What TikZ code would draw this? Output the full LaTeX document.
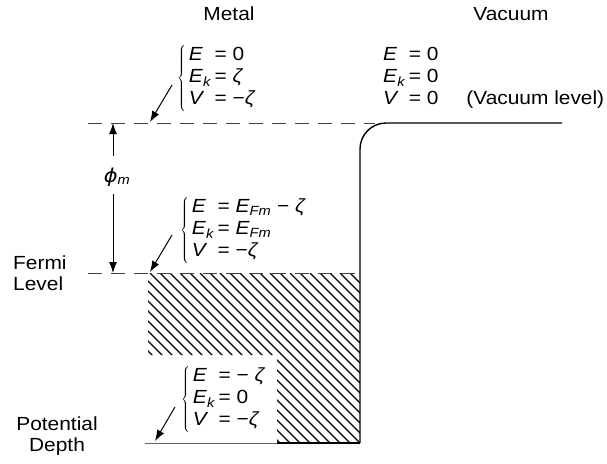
\documentclass[tikz,border=0pt]{standalone}
\usepackage{fontspec}
\setmainfont[FakeStretch=1.1]{Liberation Sans}
\newfontfamily\greekfont[FakeStretch=1.1]{DejaVu Sans}
\usetikzlibrary{arrows.meta}

\newcommand{\ek}{\textit{E}\textsubscript{\textit{k}}}
\newcommand{\efm}{\textit{E}\textsubscript{\textit{Fm}}}
\newcommand{\zt}{\textit{ζ}}

\tikzset{
  lbl/.style={inner sep=0pt, font=\fontsize{19}{22}\selectfont},
  eqs/.style={lbl, anchor=north west},
  side/.style={inner sep=0pt, font=\fontsize{19}{20.5}\selectfont},
  pointer/.style={-{Latex[length=11pt,width=8pt]}, line width=1pt},
  level/.style={dash pattern=on 14pt off 9pt, line width=1pt, black!75},
  wall/.style={line width=1.4pt},
  hatch/.style={line width=1.2pt}
}

\begin{document}
\begin{tikzpicture}[x=1pt, y=-1pt]
\useasboundingbox (0,0) rectangle (607,463);

% filled states below the Fermi level
\begin{scope}
\clip (148,273) -- (360,273) -- (360,443) -- (277,443) -- (277,355) -- (148,355) -- cycle;
\foreach \i in {-30,-20,...,360}
  \draw[hatch] (\i,273) -- ++(180,180);
\end{scope}

% levels and barrier
\draw[level] (88,123) -- (375,123);
\draw[level] (88,273) -- (360,273);
\draw[black!60, line width=0.8pt] (145,443) -- (277,443);
\draw[wall] (277,443) -- (360,443);
\draw[wall, rounded corners=26pt] (360,443) -- (360,123) -- (562,123);

% headings
\node[lbl] (metal) at (229,14) {Metal};
\node[lbl] (vacuum) at (511,14) {Vacuum};
\node[side, align=left, anchor=north west] (fermi) at (13,256) {Fermi\\Level};
\node[side, align=center, anchor=north] (depth) at (57,417) {Potential\\Depth};

% energy blocks
\node[eqs] (mtop) at (177,45) {$\left\{\mkern3mu\begin{tabular}{@{}l@{\hspace{3pt}}l@{}}
  \textit{E} & = 0\\ \ek & = \zt\\ \textit{V} & = −\zt\end{tabular}\right.$};
\node[eqs] (vtop) at (383,45) {\begin{tabular}{@{}l@{\hspace{3pt}}l@{}}
  \textit{E} & = 0\\ \ek & = 0\\ \textit{V} & = 0\hspace{28pt}(Vacuum level)\end{tabular}};
\node[eqs] (mfermi) at (180,197) {$\left\{\mkern3mu\begin{tabular}{@{}l@{\hspace{3pt}}l@{}}
  \textit{E} & = \efm\ − \zt\\ \ek & = \efm\\ \textit{V} & = −\zt\end{tabular}\right.$};
\node[eqs] (mbottom) at (181,366) {$\left\{\mkern3mu\begin{tabular}{@{}l@{\hspace{3pt}}l@{}}
  \textit{E} & = − \zt\\ \ek & = 0\\ \textit{V} & = −\zt\end{tabular}\right.$};

% pointers to the levels
\coordinate (vtip) at (150,122);
\coordinate (ftip) at (150,272);
\coordinate (ptip) at (155,441);
\draw[pointer] ([shift={(-5,40)}]mtop.north west) -- (vtip);
\draw[pointer] ([shift={(-8,38)}]mfermi.north west) -- (ftip);
\draw[pointer] ([shift={(-6,41)}]mbottom.north west) -- (ptip);

% work function
\node[lbl] (phim) at (117,177) {{\greekfont\itshape ϕ}\textsubscript{\textit{m}}};
\coordinate (phitop) at (113,123);
\coordinate (phibot) at (113,273);
\draw[pointer] (phim.north -| phitop) ++(0,-12) -- (phitop);
\draw[pointer] (phim.south -| phibot) ++(0,8) -- (phibot);
\end{tikzpicture}
\end{document}
